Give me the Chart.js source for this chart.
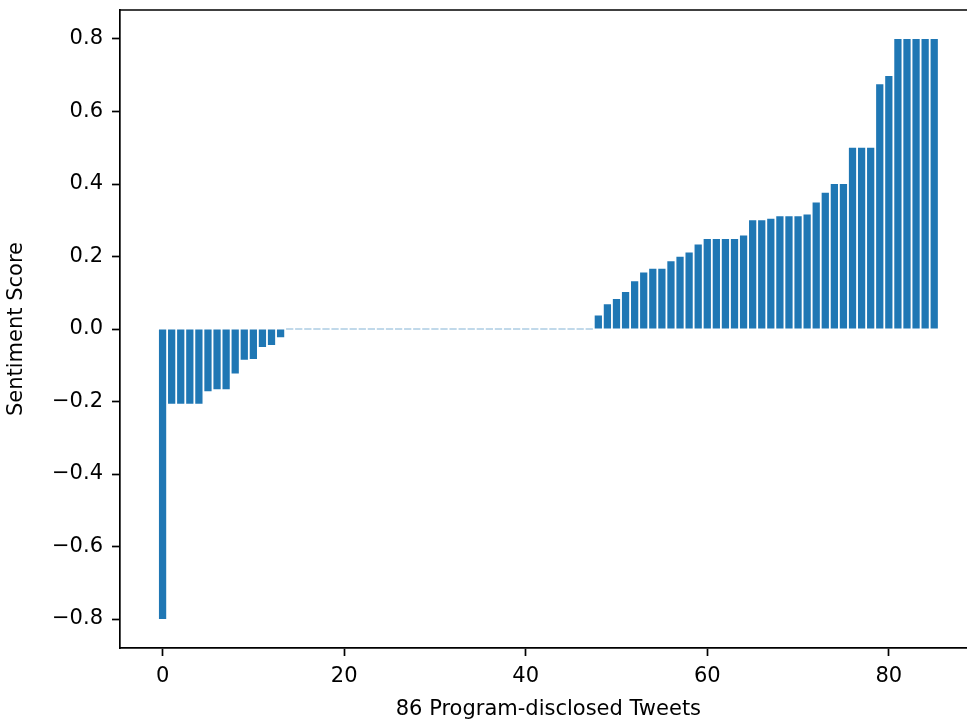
<!DOCTYPE html>
<html>
<head>
<meta charset="utf-8">
<script src="https://cdn.jsdelivr.net/npm/chart.js@4.4.1/dist/chart.umd.min.js"></script>
<style>
  html, body { margin: 0; padding: 0; overflow: hidden; background: #ffffff; width: 967px; height: 723px; }
  #wrap { position: absolute; left: 0; top: 0; width: 967px; height: 723px; overflow: hidden; }
  #c { display: block; }
</style>
</head>
<body>
<div id="wrap"><canvas id="c" width="990" height="723"></canvas></div>
<script>
// Tweet index (category) for each bar
const tweetIndex = [
  0, 1, 2, 3, 4, 5, 6, 7, 8, 9,
  10, 11, 12, 13, 14, 15, 16, 17, 18, 19,
  20, 21, 22, 23, 24, 25, 26, 27, 28, 29,
  30, 31, 32, 33, 34, 35, 36, 37, 38, 39,
  40, 41, 42, 43, 44, 45, 46, 47, 48, 49,
  50, 51, 52, 53, 54, 55, 56, 57, 58, 59,
  60, 61, 62, 63, 64, 65, 66, 67, 68, 69,
  70, 71, 72, 73, 74, 75, 76, 77, 78, 79,
  80, 81, 82, 83, 84, 85
];

// Sentiment score per tweet (sorted)
const sentimentScore = [
  -0.8, -0.206, -0.206, -0.206, -0.206, -0.172, -0.166, -0.166, -0.123, -0.085,
  -0.083, -0.0495, -0.044, -0.023, 0, 0, 0, 0, 0, 0,
  0, 0, 0, 0, 0, 0, 0, 0, 0, 0,
  0, 0, 0, 0, 0, 0, 0, 0, 0, 0,
  0, 0, 0, 0, 0, 0, 0, 0, 0.037, 0.068,
  0.0825, 0.102, 0.132, 0.156, 0.166, 0.166, 0.187, 0.199, 0.211, 0.233,
  0.248, 0.248, 0.248, 0.248, 0.258, 0.3, 0.3, 0.304, 0.311, 0.311,
  0.311, 0.316, 0.349, 0.376, 0.4, 0.4, 0.5, 0.5, 0.5, 0.675,
  0.698, 0.8, 0.8, 0.8, 0.8, 0.8
];

const xTickValues = [0, 20, 40, 60, 80];
const yTickValues = [-0.8, -0.6, -0.4, -0.2, 0.0, 0.2, 0.4, 0.6, 0.8];

const xTitle = '86 Program-disclosed Tweets';
const yTitle = 'Sentiment Score';

const BAR_COLOR = '#1f77b4';
const FONT = 'DejaVu Sans';

// top spine (the right spine lies outside the visible 967px window)
const framePlugin = {
  id: 'frame',
  afterDatasetsDraw(chart) {
    const a = chart.chartArea;
    const ctx = chart.ctx;
    ctx.save();
    ctx.strokeStyle = '#000000';
    ctx.lineWidth = 1.7;
    ctx.beginPath();
    ctx.moveTo(a.left, a.top);
    ctx.lineTo(a.right, a.top);
    ctx.stroke();
    ctx.restore();
  }
};

new Chart(document.getElementById('c'), {
  type: 'bar',
  data: {
    labels: tweetIndex,
    datasets: [{
      data: sentimentScore,
      backgroundColor: (c) => (c.raw === 0 ? 'rgba(31,119,180,0.55)' : BAR_COLOR),
      borderWidth: 0,
      minBarLength: 1,
      barPercentage: 1.0,
      categoryPercentage: 0.8
    }]
  },
  options: {
    responsive: false,
    devicePixelRatio: 1,
    animation: false,
    layout: { padding: { left: 0, top: 10, right: 13.2, bottom: 0 } },
    plugins: { legend: { display: false }, tooltip: { enabled: false } },
    scales: {
      x: {
        type: 'linear',
        offset: false,
        min: -4.69,
        max: 89.69,
        afterBuildTicks: (s) => { s.ticks = xTickValues.map(v => ({ value: v })); },
        afterFit: (s) => { s.height = 75; s.paddingLeft = 0; s.paddingRight = 0; },
        grid: { display: true, drawOnChartArea: false, drawTicks: true, tickLength: 8, tickWidth: 1.7, tickColor: '#000000', offset: false },
        border: { display: true, color: '#000000', width: 1.7 },
        ticks: {
          autoSkip: false, maxRotation: 0, padding: 8, color: '#000000',
          font: { family: FONT, size: 21 },
          callback: (v) => String(Math.round(v))
        },
        title: { display: true, text: xTitle, color: '#000000', font: { family: FONT, size: 21 }, padding: { top: 0, bottom: 1 } }
      },
      y: {
        type: 'linear',
        min: -0.88,
        max: 0.88,
        afterBuildTicks: (s) => { s.ticks = yTickValues.map(v => ({ value: v })); },
        afterFit: (s) => { s.width = 120; s.paddingTop = 0; s.paddingBottom = 0; },
        grid: { display: true, drawOnChartArea: false, drawTicks: true, tickLength: 8, tickWidth: 1.7, tickColor: '#000000' },
        border: { display: true, color: '#000000', width: 1.7 },
        ticks: {
          autoSkip: false, padding: 9, color: '#000000',
          font: { family: FONT, size: 21 },
          callback: (v) => { const t = Math.abs(v).toFixed(1); return v < -1e-9 ? '\u2212' + t : t; }
        },
        title: { display: true, text: yTitle, color: '#000000', font: { family: FONT, size: 21 }, padding: { top: 4, bottom: 0 } }
      }
    }
  },
  plugins: [framePlugin]
});
</script>
</body>
</html>
